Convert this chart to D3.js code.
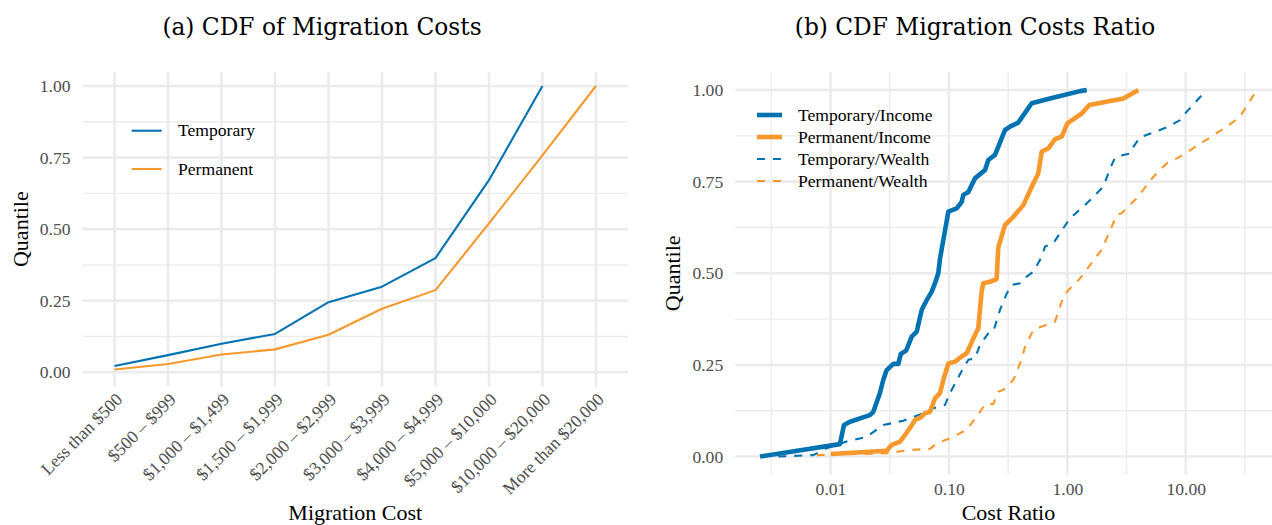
<!DOCTYPE html>
<html>
<head>
<meta charset="utf-8">
<script src="https://cdn.jsdelivr.net/npm/d3@7"></script>
<style>
  html, body { margin: 0; padding: 0; background: #fff; }
  svg { display: block; }
  text { font-family: "Liberation Serif", "Times New Roman", serif; }
  .caption { font-family: "DejaVu Serif", serif; }
</style>
</head>
<body>
<svg id="chart" width="1272" height="525"></svg>
<script>
// ---- Panel (a): CDF of migration costs by cost bracket ----
const costCategories = [
  "Less than $500", "$500 – $999", "$1,000 – $1,499", "$1,500 – $1,999",
  "$2,000 – $2,999", "$3,000 – $3,999", "$4,000 – $4,999",
  "$5,000 – $10,000", "$10,000 – $20,000", "More than $20,000"
];
const temporaryCdf = [0.022, 0.060, 0.100, 0.134, 0.245, 0.299, 0.399, 0.671, 1.000];
const permanentCdf = [0.010, 0.029, 0.062, 0.080, 0.131, 0.222, 0.287, 0.520, 0.758, 1.000];
const quantileTicks = [0, 0.25, 0.5, 0.75, 1];

// ---- Panel (b): CDF of cost ratios (log x) ----
const tempIncomeRatio = [0.00254, 0.0120, 0.0130, 0.0146, 0.0215, 0.0230, 0.0261, 0.0279, 0.0298, 0.0339, 0.0374, 0.0392, 0.0435, 0.0485, 0.0535, 0.0589, 0.0650, 0.0716, 0.0763, 0.0813, 0.0841, 0.0989, 0.1164, 0.1283, 0.1324, 0.1459, 0.166, 0.202, 0.215, 0.245, 0.298, 0.328, 0.385, 0.500, 0.714, 1.28, 1.46];
const tempIncomeQ     = [0.000, 0.034, 0.086, 0.095, 0.113, 0.122, 0.173, 0.209, 0.236, 0.253, 0.253, 0.280, 0.289, 0.327, 0.341, 0.400, 0.427, 0.450, 0.473, 0.500, 0.540, 0.668, 0.677, 0.695, 0.714, 0.722, 0.759, 0.782, 0.809, 0.823, 0.891, 0.900, 0.911, 0.964, 0.977, 0.997, 1.000];

const permIncomeRatio = [0.01005, 0.0298, 0.0329, 0.0387, 0.0426, 0.0485, 0.0518, 0.0571, 0.0628, 0.0692, 0.0763, 0.0841, 0.0897, 0.0989, 0.1127, 0.1283, 0.1413, 0.156, 0.177, 0.189, 0.195, 0.222, 0.253, 0.261, 0.298, 0.350, 0.425, 0.516, 0.569, 0.608, 0.692, 0.787, 0.897, 1.00, 1.324, 1.534, 2.97, 3.98];
const permIncomeQ     = [0.007, 0.016, 0.032, 0.041, 0.059, 0.085, 0.100, 0.106, 0.118, 0.122, 0.159, 0.173, 0.209, 0.254, 0.259, 0.273, 0.282, 0.313, 0.350, 0.450, 0.473, 0.477, 0.484, 0.570, 0.632, 0.654, 0.686, 0.745, 0.773, 0.832, 0.841, 0.866, 0.873, 0.909, 0.936, 0.959, 0.977, 1.000];

const tempWealthRatio = [0.00362, 0.00716, 0.00929, 0.0137, 0.0202, 0.0279, 0.0412, 0.0571, 0.0738, 0.0927, 0.102, 0.132, 0.146, 0.166, 0.183, 0.215, 0.237, 0.270, 0.308, 0.339, 0.399, 0.454, 0.516, 0.608, 0.648, 0.762, 0.925, 1.054, 1.41, 1.77, 2.01, 2.30, 2.53, 2.97, 3.39, 3.61, 4.11, 5.51, 7.13, 8.95, 10.2, 15.0];
const tempWealthQ     = [0.000, 0.004, 0.023, 0.041, 0.054, 0.086, 0.098, 0.115, 0.132, 0.141, 0.173, 0.241, 0.264, 0.268, 0.305, 0.336, 0.341, 0.400, 0.445, 0.468, 0.473, 0.491, 0.504, 0.545, 0.573, 0.582, 0.623, 0.650, 0.686, 0.718, 0.736, 0.786, 0.816, 0.823, 0.827, 0.845, 0.871, 0.886, 0.900, 0.918, 0.941, 1.000];

const permWealthRatio = [0.00764, 0.0298, 0.0469, 0.0692, 0.0789, 0.102, 0.141, 0.183, 0.202, 0.237, 0.261, 0.288, 0.350, 0.399, 0.440, 0.516, 0.552, 0.787, 0.925, 1.02, 1.28, 1.56, 1.95, 2.37, 2.61, 2.88, 3.86, 5.32, 6.91, 8.95, 14.1, 22.2, 28.7, 39.8];
const permWealthQ     = [0.004, 0.009, 0.018, 0.021, 0.036, 0.050, 0.073, 0.122, 0.143, 0.143, 0.177, 0.182, 0.209, 0.254, 0.300, 0.345, 0.350, 0.368, 0.436, 0.454, 0.486, 0.523, 0.564, 0.627, 0.659, 0.664, 0.705, 0.763, 0.800, 0.818, 0.859, 0.900, 0.927, 1.000];

const ratioTicks = [0.01, 0.1, 1, 10];
const ratioMinor = [0.01 / Math.sqrt(10), 0.1 / Math.sqrt(10), 1 / Math.sqrt(10), 10 / Math.sqrt(10), 100 / Math.sqrt(10)];

const BLUE = "#0072B2";
const ORANGE = "#F7982D";
const GRID = "#EBEBEB";
const TICK_GREY = "#4D4D4D";

const svg = d3.select("#chart");

function drawQuantileGrid(g, x0, x1, y) {
  const minor = [0.125, 0.375, 0.625, 0.875];
  g.selectAll(null).data(minor).join("line")
    .attr("x1", x0).attr("x2", x1)
    .attr("y1", d => y(d)).attr("y2", d => y(d))
    .attr("stroke", GRID).attr("stroke-width", 1.4);
  g.selectAll(null).data(quantileTicks).join("line")
    .attr("x1", x0).attr("x2", x1)
    .attr("y1", d => y(d)).attr("y2", d => y(d))
    .attr("stroke", GRID).attr("stroke-width", 2.6);
}

// ================= Panel (a) =================
{
  const left = 82.5, right = 628, top = 71.7, bottom = 386.6;
  const x = d3.scalePoint().domain(costCategories).range([left, right]).padding(0.6);
  const y = d3.scaleLinear().domain([-0.05, 1.05]).range([bottom, top]);
  const g = svg.append("g");

  drawQuantileGrid(g, left, right, y);
  g.selectAll(null).data(costCategories).join("line")
    .attr("x1", d => x(d)).attr("x2", d => x(d))
    .attr("y1", top).attr("y2", bottom)
    .attr("stroke", GRID).attr("stroke-width", 2.6);

  const line = d3.line().x((d, i) => x(costCategories[i])).y(d => y(d));
  g.append("path").datum(temporaryCdf).attr("d", line)
    .attr("fill", "none").attr("stroke", BLUE).attr("stroke-width", 2.1)
    .attr("stroke-linejoin", "round");
  g.append("path").datum(permanentCdf).attr("d", line)
    .attr("fill", "none").attr("stroke", ORANGE).attr("stroke-width", 2.1)
    .attr("stroke-linejoin", "round");

  // y axis labels
  const yAxis = d3.axisLeft(y).tickValues(quantileTicks).tickFormat(d3.format(".2f")).tickSize(0).tickPadding(12);
  const ya = g.append("g").attr("transform", `translate(${left},0)`).call(yAxis);
  ya.select(".domain").remove();
  ya.selectAll("text").attr("font-size", 17.6).attr("fill", TICK_GREY)
    .attr("font-family", "Liberation Serif, serif");

  // x axis labels, rotated 45 degrees
  g.selectAll(null).data(costCategories).join("text")
    .attr("transform", d => `translate(${x(d)},${bottom + 5}) rotate(-45)`)
    .attr("text-anchor", "end").attr("dy", "0.72em")
    .attr("font-size", 17.6).attr("fill", TICK_GREY)
    .text(d => d);

  // axis titles
  g.append("text").attr("x", (left + right) / 2).attr("y", 520)
    .attr("text-anchor", "middle").attr("font-size", 22).attr("fill", "#000")
    .text("Migration Cost");
  g.append("text").attr("transform", `translate(28,${(top + bottom) / 2}) rotate(-90)`)
    .attr("text-anchor", "middle").attr("font-size", 22).attr("fill", "#000")
    .text("Quantile");

  // legend
  const legend = [["Temporary", BLUE], ["Permanent", ORANGE]];
  const lg = g.append("g");
  legend.forEach(([name, col], i) => {
    const cy = 130.7 + i * 38.3;
    lg.append("line").attr("x1", 131.7).attr("x2", 161.7).attr("y1", cy).attr("y2", cy)
      .attr("stroke", col).attr("stroke-width", 2.1);
    lg.append("text").attr("x", 178).attr("y", cy).attr("dy", "0.32em")
      .attr("font-size", 17.6).attr("fill", "#000").text(name);
  });

  // caption
  svg.append("text").attr("class", "caption").attr("x", 322).attr("y", 35)
    .attr("text-anchor", "middle").attr("font-size", 23.3).attr("fill", "#000")
    .text("(a) CDF of Migration Costs");
}

// ================= Panel (b) =================
{
  const left = 735.2, right = 1281.6, top = 71.7, bottom = 474.9;
  const allRatios = [].concat(tempIncomeRatio, permIncomeRatio, tempWealthRatio, permWealthRatio);
  const [lo, hi] = d3.extent(allRatios).map(Math.log10);
  const pad = (hi - lo) * 0.05;
  const x = d3.scaleLog().domain([10 ** (lo - pad), 10 ** (hi + pad)]).range([left, right]);
  const y = d3.scaleLinear().domain([-0.05, 1.05]).range([bottom, top]);
  const g = svg.append("g");

  drawQuantileGrid(g, left, right, y);
  g.selectAll(null).data(ratioMinor).join("line")
    .attr("x1", d => x(d)).attr("x2", d => x(d))
    .attr("y1", top).attr("y2", bottom)
    .attr("stroke", GRID).attr("stroke-width", 1.4);
  g.selectAll(null).data(ratioTicks).join("line")
    .attr("x1", d => x(d)).attr("x2", d => x(d))
    .attr("y1", top).attr("y2", bottom)
    .attr("stroke", GRID).attr("stroke-width", 2.6);

  const series = [
    { name: "Temporary/Income", xs: tempIncomeRatio, qs: tempIncomeQ, color: BLUE, width: 4.6, dash: null },
    { name: "Permanent/Income", xs: permIncomeRatio, qs: permIncomeQ, color: ORANGE, width: 4.6, dash: null },
    { name: "Temporary/Wealth", xs: tempWealthRatio, qs: tempWealthQ, color: BLUE, width: 2.1, dash: "8,8" },
    { name: "Permanent/Wealth", xs: permWealthRatio, qs: permWealthQ, color: ORANGE, width: 2.1, dash: "8,8" }
  ];
  const line = d3.line().x(d => x(d[0])).y(d => y(d[1]));
  // wealth ratios underneath, income ratios on top
  [series[2], series[3], series[0], series[1]].forEach(s => {
    g.append("path").datum(d3.zip(s.xs, s.qs)).attr("d", line)
      .attr("fill", "none").attr("stroke", s.color).attr("stroke-width", s.width)
      .attr("stroke-linejoin", "round")
      .attr("stroke-dasharray", s.dash);
  });

  const yAxis = d3.axisLeft(y).tickValues(quantileTicks).tickFormat(d3.format(".2f")).tickSize(0).tickPadding(12);
  const ya = g.append("g").attr("transform", `translate(${left},0)`).call(yAxis);
  ya.select(".domain").remove();
  ya.selectAll("text").attr("font-size", 17.6).attr("fill", TICK_GREY)
    .attr("font-family", "Liberation Serif, serif");

  const xAxis = d3.axisBottom(x).tickValues(ratioTicks).tickFormat(d3.format(".2f")).tickSize(0).tickPadding(8);
  const xa = g.append("g").attr("transform", `translate(0,${bottom})`).call(xAxis);
  xa.select(".domain").remove();
  xa.selectAll("text").attr("font-size", 17.6).attr("fill", TICK_GREY)
    .attr("font-family", "Liberation Serif, serif");

  g.append("text").attr("x", (left + right) / 2).attr("y", 520)
    .attr("text-anchor", "middle").attr("font-size", 22).attr("fill", "#000")
    .text("Cost Ratio");
  g.append("text").attr("transform", `translate(680,${(top + bottom) / 2}) rotate(-90)`)
    .attr("text-anchor", "middle").attr("font-size", 22).attr("fill", "#000")
    .text("Quantile");

  const lg = g.append("g");
  series.forEach((s, i) => {
    const cy = 115 + i * 22;
    lg.append("line").attr("x1", 757).attr("x2", 782).attr("y1", cy).attr("y2", cy)
      .attr("stroke", s.color).attr("stroke-width", s.width)
      .attr("stroke-dasharray", s.dash);
    lg.append("text").attr("x", 798).attr("y", cy).attr("dy", "0.32em")
      .attr("font-size", 17.6).attr("fill", "#000").text(s.name);
  });

  svg.append("text").attr("class", "caption").attr("x", 975).attr("y", 35)
    .attr("text-anchor", "middle").attr("font-size", 23.3).attr("fill", "#000")
    .text("(b) CDF Migration Costs Ratio");
}
</script>
</body>
</html>
